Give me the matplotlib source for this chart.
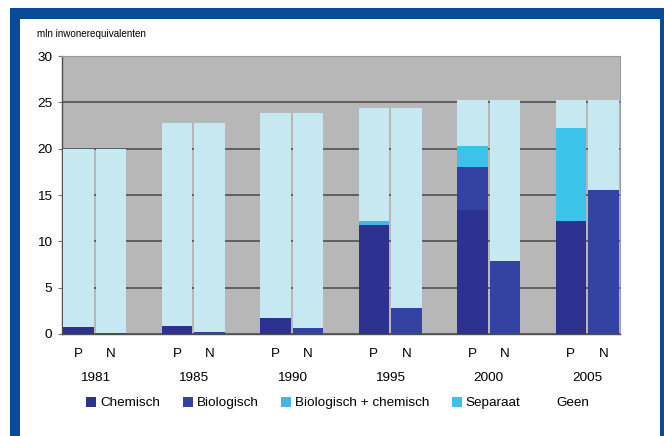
import matplotlib
matplotlib.use("Agg")
import matplotlib.pyplot as plt
import numpy as np
from matplotlib.patches import Rectangle, Patch
from matplotlib.transforms import blended_transform_factory

plt.rcParams['font.family'] = ['Liberation Sans', 'DejaVu Sans']

years = ["1981", "1985", "1990", "1995", "2000", "2005"]
bar_labels = ["P", "N"]
series = ["Chemisch", "Biologisch", "Biologisch + chemisch", "Separaat", "Geen"]

# values per bar: order P1981, N1981, P1985, N1985, ...
chemisch      = [0.8, 0.0, 0.9, 0.0, 1.7, 0.0, 11.8, 0.0, 13.4, 0.0, 12.2, 0.0]
biologisch    = [0.0, 0.1, 0.0, 0.25, 0.0, 0.65, 0.0, 2.8, 4.6, 7.9, 0.0, 15.5]
bio_chemisch  = [0.0, 0.0, 0.0, 0.0, 0.0, 0.0, 0.4, 0.0, 0.0, 0.0, 0.0, 0.0]
separaat      = [0.0, 0.0, 0.0, 0.0, 0.0, 0.0, 0.0, 0.0, 2.3, 0.0, 10.0, 0.0]
totaal        = [20.0, 20.0, 22.8, 22.8, 23.8, 23.8, 24.4, 24.4, 25.2, 25.2, 25.2, 25.2]

colors = ["#2d3190", "#3443a3", "#48b6e2", "#3cc3ea", "#c6e8f1"]

W, H = 664, 436
fig = plt.figure(figsize=(W / 100, H / 100), dpi=100)
fig.patch.set_facecolor("white")

# blue frame and inner white panel
fig.patches.append(Rectangle((10 / W, 0), 654 / W, 1 - 8 / H, transform=fig.transFigure,
                             facecolor="#0b4a97", edgecolor="none", zorder=-2))
fig.patches.append(Rectangle((20 / W, 0), 640 / W, 1 - 19 / H, transform=fig.transFigure,
                             facecolor="white", edgecolor="none", zorder=-1))

ax = fig.add_axes([62 / W, 1 - 334 / H, (620 - 62) / W, (334 - 56) / H])
ax.set_zorder(2)
ax.set_facecolor("#b7b7b8")

n = len(totaal)
x = np.array([3 * (i // 2) + (i % 2) for i in range(n)], dtype=float)

geen = [t - c - b - bc - s for t, c, b, bc, s in zip(totaal, chemisch, biologisch, bio_chemisch, separaat)]
stack = [chemisch, biologisch, bio_chemisch, separaat, geen]
bottom = np.zeros(n)
for vals, col, name in zip(stack, colors, series):
    ax.bar(x, vals, width=0.93, bottom=bottom, color=col, edgecolor="none", zorder=3, label=name)
    bottom += np.array(vals)

ax.set_xlim(-0.5, 16.5)
ax.set_ylim(0, 30)
ax.set_yticks([0, 5, 10, 15, 20, 25, 30])
ax.yaxis.grid(True, color="#58585a", linewidth=1.3, zorder=1)
ax.set_axisbelow(True)
ax.tick_params(axis="y", length=3, color="#777777", labelsize=9.7, pad=4)
ax.tick_params(axis="x", length=0, labelsize=9.7, pad=10)
ax.set_xticks(x)
ax.set_xticklabels([bar_labels[i % 2] for i in range(n)])
for sp in ["top", "right"]:
    ax.spines[sp].set_color("#9a9a9a")
for sp in ["left", "bottom"]:
    ax.spines[sp].set_color("#505050")
    ax.spines[sp].set_linewidth(1.0)

trans = blended_transform_factory(ax.transData, fig.transFigure)
for g, yr in enumerate(years):
    ax.text(3 * g + 0.5, 1 - 378 / H, yr, transform=trans, ha="center", va="center", fontsize=9.7)

fig.text(37 / W, 1 - 34 / H, "mln inwonerequivalenten", fontsize=7.1, ha="left", va="center")

handles = [Patch(facecolor=c, edgecolor="none") for c in colors[:4]] + [Patch(facecolor="white", edgecolor="none")]
fig.legend(handles, series, loc="center", bbox_to_anchor=(338 / W, 1 - 403 / H), ncol=5, frameon=False,
           fontsize=9.7, handlelength=0.75, handleheight=0.75, handletextpad=0.3, columnspacing=1.65)

fig.savefig("out.png", dpi=100)
